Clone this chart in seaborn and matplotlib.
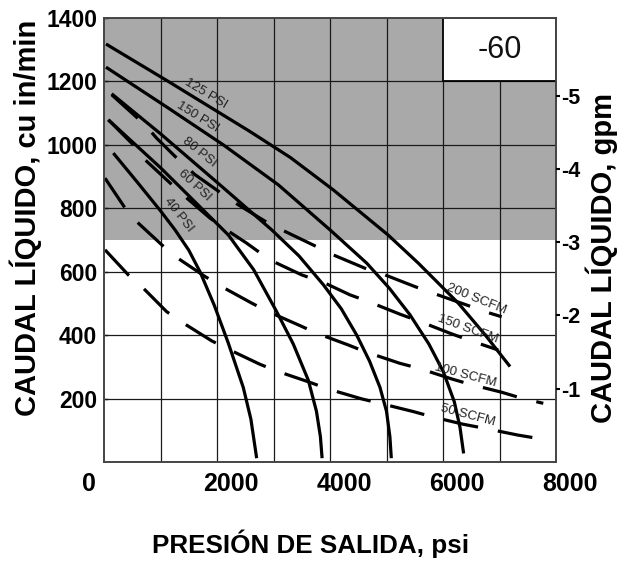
import matplotlib
matplotlib.use("Agg")
import matplotlib.pyplot as plt
import matplotlib.transforms as mtransforms
import pandas as pd
import seaborn as sns

# ---------------- data ----------------
x_ticks = [0, 2000, 4000, 6000, 8000]
y_ticks = [200, 400, 600, 800, 1000, 1200, 1400]
gpm_ticks = [1, 2, 3, 4, 5]
cu_in_per_gal = 231

psi40_x = [165, 600, 1000, 1257, 1500, 1699, 1950, 2200, 2465, 2600, 2702]
psi40_y = [974, 880, 792, 732, 668, 600, 495, 375, 235, 135, 12]

psi60_x = [77, 1000, 1600, 2200, 2650, 3056, 3350, 3616, 3760, 3830, 3860]
psi60_y = [1079, 928, 822, 716, 606, 474, 372, 258, 160, 80, 12]

psi80_x = [136, 1000, 2000, 2968, 3450, 3882, 4200, 4473, 4700, 4885, 5000, 5060, 5085]
psi80_y = [1161, 1035, 882, 732, 650, 559, 483, 400, 318, 235, 160, 80, 12]

psi150_x = [35, 1138, 2112, 3085, 4000, 4650, 5050, 5416, 5750, 6005, 6200, 6300, 6365]
psi150_y = [1245, 1116, 1000, 874, 732, 627, 548, 464, 372, 285, 190, 110, 27]

psi125_x = [35, 1138, 2584, 3300, 4058, 5027, 5563, 6270, 6750, 7186]
psi125_y = [1318, 1200, 1042, 960, 858, 716, 627, 501, 400, 301]

scfm200_x = [136, 726, 932, 1375, 1611, 2112, 2377, 2908, 3204, 3764, 4058, 4619, 4973, 5504, 5829, 6419, 6743, 7038]
scfm200_y = [1158, 1063, 1021, 943, 906, 843, 811, 753, 727, 679, 653, 611, 590, 553, 532, 495, 474, 458]

scfm150_x = [77, 519, 726, 1168, 1434, 1876, 2142, 2525, 2938, 3499, 3912, 4354, 4678, 5239, 5563, 6124, 6448, 6978]
scfm150_y = [1079, 1000, 953, 880, 837, 769, 735, 690, 637, 590, 564, 527, 506, 466, 445, 406, 385, 353]

scfm100_x = [18, 372, 578, 1021, 1286, 1788, 2082, 2614, 2908, 3469, 3764, 4324, 4619, 5239, 5563, 6153, 6478, 7038, 7393, 7775]
scfm100_y = [895, 801, 758, 685, 645, 585, 553, 501, 474, 430, 406, 369, 348, 311, 296, 262, 245, 220, 201, 185]

scfm50_x = [18, 430, 696, 1109, 1404, 1906, 2230, 2761, 3085, 3616, 3970, 4561, 4885, 5475, 5800, 6359, 6743, 7322, 7658, 7775]
scfm50_y = [669, 590, 548, 474, 438, 382, 353, 308, 285, 253, 230, 199, 185, 159, 143, 119, 106, 85, 75, 73]

psi_curves = {
    "40 PSI": (psi40_x, psi40_y),
    "60 PSI": (psi60_x, psi60_y),
    "80 PSI": (psi80_x, psi80_y),
    "150 PSI": (psi150_x, psi150_y),
    "125 PSI": (psi125_x, psi125_y),
}
scfm_curves = {
    "200 SCFM": (scfm200_x, scfm200_y),
    "150 SCFM": (scfm150_x, scfm150_y),
    "100 SCFM": (scfm100_x, scfm100_y),
    "50 SCFM": (scfm50_x, scfm50_y),
}

# curve label positions (data coords) and rotation (deg)
label_text = ["125 PSI", "150 PSI", "80 PSI", "60 PSI", "40 PSI",
              "200 SCFM", "150 SCFM", "100 SCFM", "50 SCFM"]
label_x = [1800, 1652, 1687, 1611, 1315, 6596, 6448, 6389, 6437]
label_y = [1163, 1088, 977, 871, 779, 514, 420, 272, 148]
label_rot = [-31, -32, -39, -43, -52, -22, -20, -15, -15]

shade_low, shade_high = 700, 1400
box_x0, box_x1, box_y0, box_y1 = 6000, 8000, 1200, 1400
box_text = "-60"

# ---------------- style ----------------
sns.set_style("white")
plt.rcParams["font.family"] = ["Liberation Sans", "DejaVu Sans"]
plt.rcParams["text.color"] = "black"
plt.rcParams["axes.labelcolor"] = "black"
plt.rcParams["xtick.color"] = "black"
plt.rcParams["ytick.color"] = "black"

fig = plt.figure(figsize=(6.18, 5.63), dpi=100)
ax = fig.add_axes([104 / 618, (563 - 462) / 563, 452 / 618, 444 / 563])
ax.set_xlim(0, 8000)
ax.set_ylim(0, 1400)

# shaded band
ax.axhspan(shade_low, shade_high, color="#a9a9a9", lw=0, zorder=0)

# grid
for gx in range(1000, 8000, 1000):
    ax.axvline(gx, color="#1a1a1a", lw=0.9, zorder=1)
for gy in y_ticks[:-1]:
    ax.axhline(gy, color="#1a1a1a", lw=0.9, zorder=1)

# label box
ax.add_patch(plt.Rectangle((box_x0, box_y0), box_x1 - box_x0, box_y1 - box_y0,
                           facecolor="white", edgecolor="black", lw=1.3, zorder=2))
ax.text((box_x0 + box_x1) / 2, (box_y0 + box_y1) / 2, box_text, ha="center", va="center",
        fontsize=22, color="#111111", zorder=3)

# curves
for name, (xs, ys) in psi_curves.items():
    df = pd.DataFrame({"x": xs, "y": ys})
    sns.lineplot(data=df, x="x", y="y", ax=ax, color="black", lw=2.3,
                 estimator=None, sort=False, zorder=4, solid_capstyle="butt",
                 solid_joinstyle="round")
for name, (xs, ys) in scfm_curves.items():
    df = pd.DataFrame({"x": xs, "y": ys})
    sns.lineplot(data=df, x="x", y="y", ax=ax, color="black", lw=2.3,
                 estimator=None, sort=False, zorder=4,
                 linestyle=(0, (11.0, 6.3)), dash_capstyle="butt")

for t, lx, ly, r in zip(label_text, label_x, label_y, label_rot):
    ax.text(lx, ly, t, rotation=r, rotation_mode="anchor", ha="center", va="center",
            fontsize=9.5, color="#222222", zorder=5)

# axes cosmetics
for s in ax.spines.values():
    s.set_color("#444444")
    s.set_linewidth(1.4)
    s.set_zorder(6)

ax.set_xticks(x_ticks)
ax.set_xticklabels([str(v) for v in x_ticks])
ax.set_yticks(y_ticks)
ax.set_yticklabels([str(v) for v in y_ticks])
ax.tick_params(axis="x", length=0, pad=7, labelsize=18)
ax.tick_params(axis="y", direction="in", length=3, width=1, pad=5, labelsize=16.5)
for lab in ax.get_xticklabels():
    lab.set_fontweight("bold")
    dx = -11 / 72 if lab.get_text() == "0" else 10 / 72
    lab.set_transform(lab.get_transform() + mtransforms.ScaledTranslation(dx, 0, fig.dpi_scale_trans))
for lab in ax.get_yticklabels():
    lab.set_fontweight("bold")

ax.set_xlabel("PRESIÓN DE SALIDA, psi", fontsize=18.7, fontweight="bold")
ax.xaxis.set_label_coords(0.456, -0.153)
ax.set_ylabel("CAUDAL LÍQUIDO, cu in/min", fontsize=21, fontweight="bold")
ax.yaxis.set_label_coords(-0.137, 0.55)

ax2 = ax.twinx()
ax2.set_ylim(ax.get_ylim())
ax2.set_yticks([g * cu_in_per_gal for g in gpm_ticks])
ax2.set_yticklabels(["-" + str(g) for g in gpm_ticks])
ax2.tick_params(axis="y", direction="out", length=3, width=1.5, pad=1, labelsize=15.5)
for lab in ax2.get_yticklabels():
    lab.set_fontweight("bold")
ax2.set_ylabel("CAUDAL LÍQUIDO, gpm", fontsize=21, fontweight="bold")
ax2.yaxis.set_label_coords(1.066, 0.459)
for s in ax2.spines.values():
    s.set_visible(False)

fig.savefig("out.png", dpi=100)
